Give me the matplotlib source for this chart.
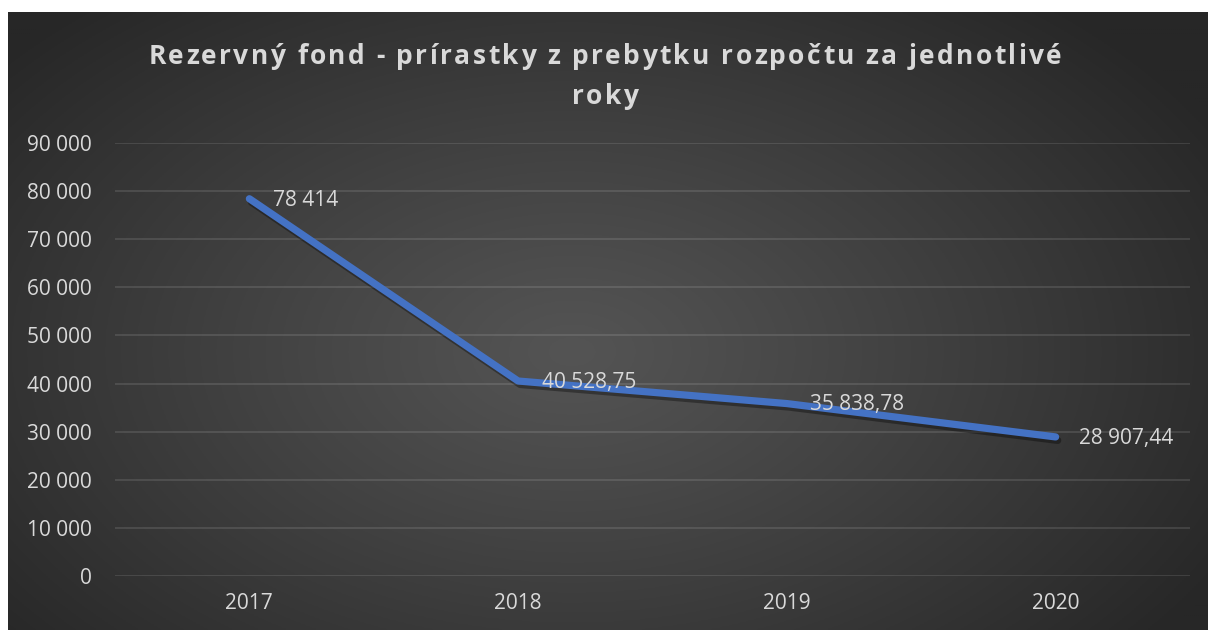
import matplotlib
matplotlib.use("Agg")
import matplotlib.pyplot as plt
import matplotlib.patheffects as pe
import numpy as np

years = ['2017', '2018', '2019', '2020']
values = [78414, 40528.75, 35838.78, 28907.44]
value_labels = ['78 414', '40 528,75', '35 838,78', '28 907,44']
yticks = [0, 10000, 20000, 30000, 40000, 50000, 60000, 70000, 80000, 90000]
title_lines = ['Rezervný fond - prírastky z prebytku rozpočtu za jednotlivé', 'roky']

W, H = 1208, 630
plt.rcParams['font.family'] = ['Open Sans', 'DejaVu Sans']
txt_col = '#d9d9d9'

fig = plt.figure(figsize=(W / 100, H / 100), dpi=100)
fig.patch.set_facecolor('white')

# radial gradient background of the chart box
bg = fig.add_axes([8 / W, 0, (W - 8) / W, (H - 12) / H])
bg.set_axis_off()
gx, gy = np.meshgrid(np.linspace(0, 1, 600), np.linspace(0, 1, 310))
d = np.sqrt(((gx - 0.47) / 0.62) ** 2 + ((gy - 0.55) / 0.75) ** 2)
d = np.clip(d, 0, 1)
c0, c1 = 0x54 / 255, 0x27 / 255
shade = c0 + (c1 - c0) * d ** 1.1
img = np.dstack([shade, shade, shade])
bg.imshow(img, extent=[0, 1, 0, 1], aspect='auto', origin='upper')
bg.set_xlim(0, 1)
bg.set_ylim(0, 1)

ax = fig.add_axes([115 / W, 1 - 576 / H, 1075 / W, 433 / H])
ax.patch.set_alpha(0)
x = np.arange(len(years))
ax.plot(x, values, color='#4472c4', lw=5.2, solid_capstyle='round', solid_joinstyle='round',
        path_effects=[pe.SimpleLineShadow(offset=(1.5, -2.5), shadow_color='black', alpha=0.35),
                      pe.Normal()], zorder=3)
for xi, v, lab in zip(x, values, value_labels):
    ax.annotate(lab, (xi, v), xytext=(17, -1), textcoords='offset points',
                ha='left', va='center', color=txt_col, fontsize=15, zorder=4)

ax.set_xlim(-0.5, 3.5)
ax.set_ylim(0, 90000)
ax.set_yticks(yticks)
ax.set_yticklabels(['{:,}'.format(t).replace(',', ' ') for t in yticks])
ax.set_xticks(x)
ax.set_xticklabels(years)
ax.grid(axis='y', color='#ffffff', alpha=0.12, lw=1.3)
ax.tick_params(length=0, colors=txt_col, labelsize=15)
ax.tick_params(axis='y', pad=17)
ax.tick_params(axis='x', pad=12)
for s in ax.spines.values():
    s.set_visible(False)

# title with letter spacing
renderer = fig.canvas.get_renderer()
def spaced_text(s, cx, cy, size, spacing):
    widths = []
    for ch in s:
        if ch == ' ':
            t = fig.text(0, 0, 'a a', fontsize=size, fontweight='bold')
            t2 = fig.text(0, 0, 'aa', fontsize=size, fontweight='bold')
            w = t.get_window_extent(renderer).width - t2.get_window_extent(renderer).width
            t.remove(); t2.remove()
        else:
            t = fig.text(0, 0, ch, fontsize=size, fontweight='bold')
            w = t.get_window_extent(renderer).width
            t.remove()
        widths.append(w)
    total = sum(widths) + spacing * (len(s) - 1)
    px = cx - total / 2
    for ch, w in zip(s, widths):
        fig.text(px / W, 1 - cy / H, ch, fontsize=size, fontweight='bold',
                 color=txt_col, ha='left', va='center')
        px += w + spacing

spaced_text(title_lines[0], 605, 56, 19, 2.4)
spaced_text(title_lines[1], 605, 96, 19, 2.4)

fig.savefig('out.png', dpi=100)
